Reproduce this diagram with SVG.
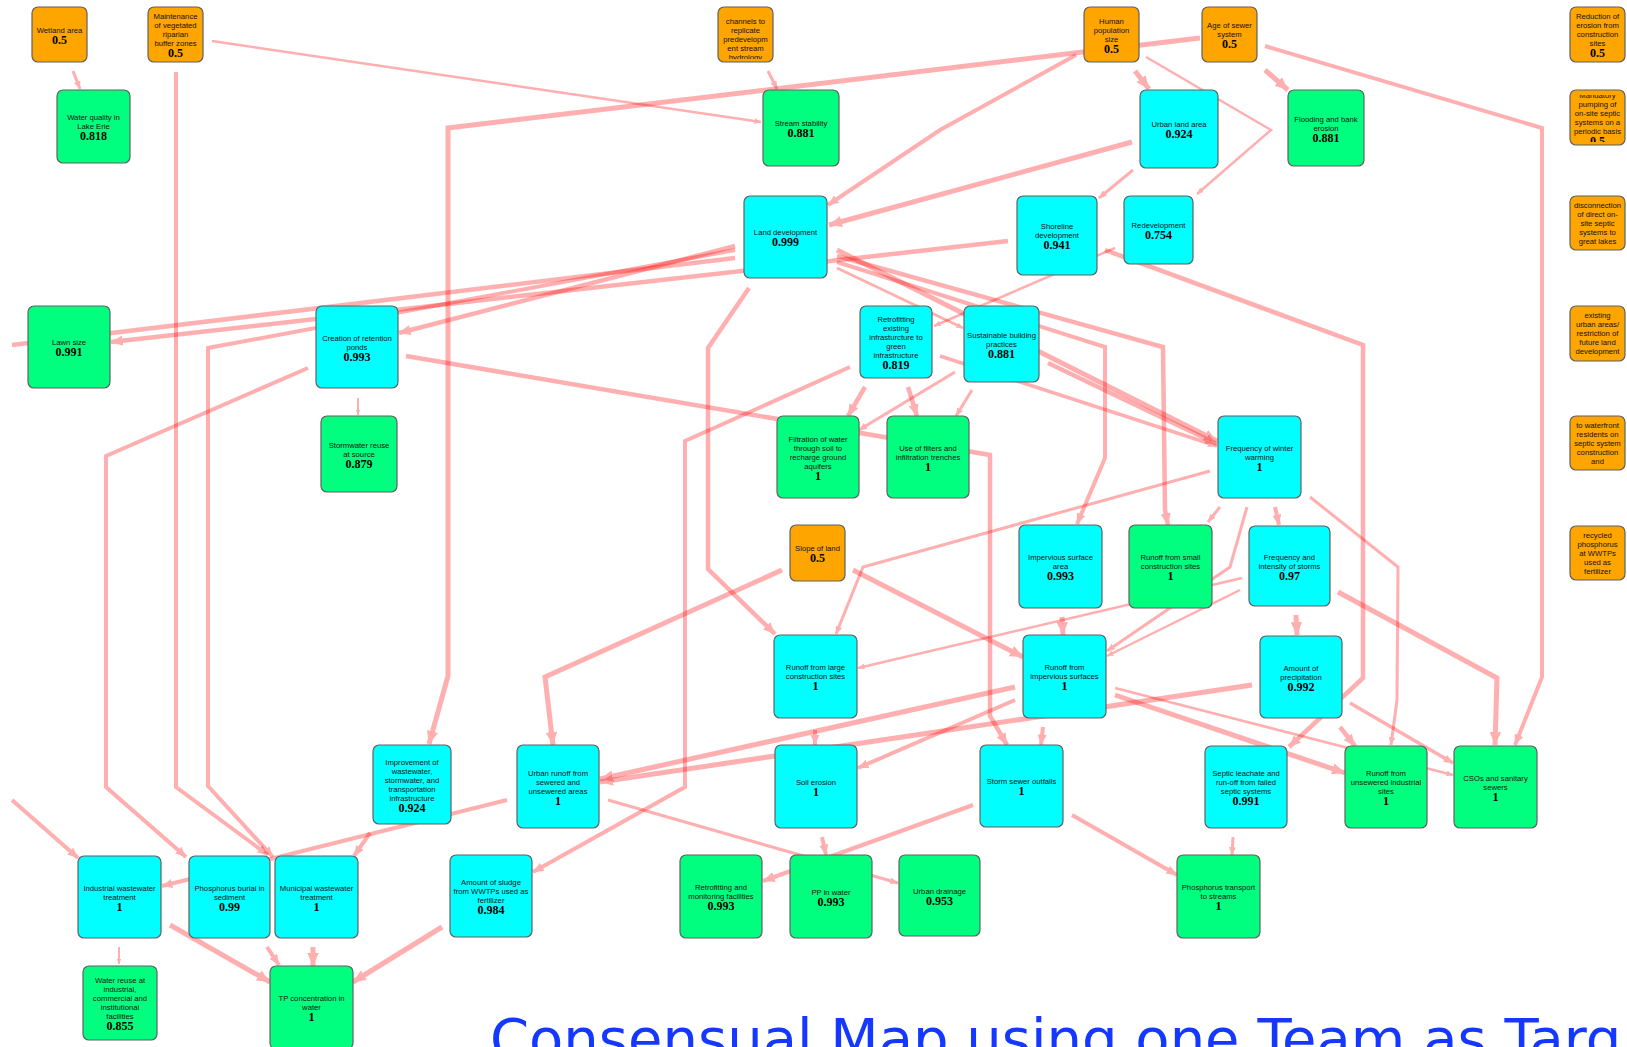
<svg xmlns="http://www.w3.org/2000/svg" width="1627" height="1047" viewBox="0 0 1627 1047">
<style>
  .n rect.b { stroke:#606060; stroke-width:1.2; }
  .o { fill:#ffa500; } .c { fill:#00ffff; } .g { fill:#00ff7f; }
  .t { font-family:"Liberation Sans", Arial, sans-serif; font-size:7.7px; fill:#111; text-anchor:middle; }
  .v { font-family:"Liberation Serif", "Times New Roman", serif; font-weight:bold; font-size:12px; fill:#000; text-anchor:middle; }
  #edges path { fill:none; stroke:#ff0000; opacity:0.31; stroke-linejoin:miter; marker-end:url(#ah); }
  #edges path.open { marker-end:none; }
  .w2 { stroke-width:2; } .w25 { stroke-width:2.5; } .w3 { stroke-width:3; } .w35 { stroke-width:3.5; }
  .w4 { stroke-width:4; } .w45 { stroke-width:4.5; } .w5 { stroke-width:5; }
  .title { font-family:"DejaVu Sans", Verdana, sans-serif; font-size:56px; fill:#1438ff; }
</style>
<defs>
  <marker id="ah" viewBox="0 0 10 10" refX="10" refY="5" markerWidth="2.6" markerHeight="2.3" markerUnits="strokeWidth" orient="auto" preserveAspectRatio="none">
    <path d="M0,0 L10,5 L0,10 z" fill="#ff0000"/>
  </marker>
  <clipPath id="k-channels"><rect x="718" y="10.5" width="55" height="48.5"/></clipPath>
  <clipPath id="k-pumping"><rect x="1570" y="95" width="55" height="47"/></clipPath>
  <clipPath id="k-disc"><rect x="1570" y="199.5" width="55" height="47"/></clipPath>
  <clipPath id="k-exist"><rect x="1570" y="309.5" width="55" height="48"/></clipPath>
  <clipPath id="k-water"><rect x="1570" y="419.5" width="55" height="47"/></clipPath>
  <clipPath id="k-recyc"><rect x="1570" y="529.5" width="55" height="47"/></clipPath>
</defs>
<rect width="1627" height="1047" fill="#fff"/>

<!-- causal links -->
<g id="edges">
  <path class="w3" d="M73,71 L80,89"/>
  <path class="w25" d="M212,41 L761,122"/>
  <path class="w4" d="M176,72 L176,787 L268,855"/>
  <path class="w3" d="M768,71 L777,89"/>
  <path class="w5" d="M1200,38 L448,128 L448,676 L429,744"/>
  <path class="w4" d="M1076,55 L940,130 L828,205"/>
  <path class="w5" d="M1135,71 L1149,89"/>
  <path class="w25" d="M1146,57 L1271,130 L1197,194"/>
  <path class="w5" d="M1132,142 L829,225"/>
  <path class="w3" d="M1133,170 L1099,198"/>
  <path class="w5" d="M1265,70 L1288,90"/>
  <path class="w4" d="M1265,46 L1542,128 L1542,677 L1515,745"/>
  <path class="w45" d="M1008,241 L111,342"/>
  <path class="w45 open" d="M735,258 L12,345"/>
  <path class="w45" d="M735,246 L399,333"/>
  <path class="w4" d="M735,250 L208,348 L208,786 L273,857"/>
  <path class="w4" d="M308,368 L106,456 L106,787 L186,857"/>
  <path class="w45" d="M406,356 L990,455 L990,716 L1007,745"/>
  <path class="w2" d="M358,398 L358,415"/>
  <path class="w45" d="M749,288 L708,348 L708,569 L775,634"/>
  <path class="w5" d="M837,250 L1217,441"/>
  <path class="w45" d="M837,256 L1163,347 L1165,510 L1168,525"/>
  <path class="w4" d="M837,262 L1105,347 L1105,458 L1077,524"/>
  <path class="w25" d="M837,268 L963,328"/>
  <path class="w45" d="M1048,363 L1217,444"/>
  <path class="w35" d="M940,356 L1217,446"/>
  <path class="w45" d="M865,387 L848,416"/>
  <path class="w45" d="M908,387 L917,416"/>
  <path class="w3" d="M955,372 L859,430"/>
  <path class="w3" d="M972,390 L956,416"/>
  <path class="w4" d="M850,367 L685,441 L685,787 L533,872"/>
  <path class="w25" d="M1115,248 L934,326"/>
  <path class="w45" d="M1105,250 L1363,345 L1363,678 L1289,747"/>
  <path class="w3" d="M1210,471 L863,567 L836,634"/>
  <path class="w3" d="M1220,507 L1208,522"/>
  <path class="w4" d="M1275,507 L1279,525"/>
  <path class="w3" d="M1247,507 L1230,567 L1107,651"/>
  <path class="w3" d="M1310,497 L1398,567 L1397,700 L1391,745"/>
  <path class="w5" d="M1338,592 L1497,678 L1495,745"/>
  <path class="w5" d="M1296,615 L1297,635"/>
  <path class="w25" d="M1242,578 L858,668"/>
  <path class="w25" d="M1240,590 L1107,656"/>
  <path class="w5" d="M1252,685 L600,782"/>
  <path class="w35" d="M1350,703 L1453,763"/>
  <path class="w45" d="M1340,727 L1355,746"/>
  <path class="w5" d="M1015,687 L600,779"/>
  <path class="w4" d="M1015,700 L858,768"/>
  <path class="w4" d="M1043,727 L1041,745"/>
  <path class="w5" d="M1115,695 L1345,773"/>
  <path class="w25" d="M1115,688 L1453,775"/>
  <path class="w5" d="M853,570 L1023,657"/>
  <path class="w5" d="M782,570 L545,677 L553,745"/>
  <path class="w5" d="M1062,617 L1063,635"/>
  <path class="w4" d="M815,730 L815,745"/>
  <path class="w4" d="M822,837 L826,855"/>
  <path class="w45" d="M973,805 L763,881"/>
  <path class="w3" d="M608,800 L898,883"/>
  <path class="w4" d="M507,800 L162,886"/>
  <path class="w4" d="M370,833 L354,856"/>
  <path class="w2" d="M119,947 L119,964"/>
  <path class="w5" d="M170,925 L270,982"/>
  <path class="w4" d="M267,947 L279,965"/>
  <path class="w5" d="M313,947 L313,966"/>
  <path class="w5" d="M442,927 L353,982"/>
  <path class="w3" d="M1233,837 L1232,855"/>
  <path class="w4" d="M1072,815 L1177,875"/>
  <path class="w4" d="M12,800 L78,858"/>
</g>

<!-- concepts -->
<g id="wetland" class="n"><rect class="b o" x="32" y="7" width="55" height="55" rx="6"/>
  <text class="t" x="59.5" y="32.5">Wetland area</text><text class="v" x="59.5" y="43.5">0.5</text></g>
<g id="riparian" class="n"><rect class="b o" x="148" y="7" width="55" height="55" rx="6"/>
  <text class="t" x="175.5" y="19">Maintenance</text><text class="t" x="175.5" y="28">of vegetated</text><text class="t" x="175.5" y="37">riparian</text><text class="t" x="175.5" y="46">buffer zones</text><text class="v" x="175.5" y="57">0.5</text></g>
<g id="channels" class="n"><rect class="b o" x="718" y="7" width="55" height="55" rx="6"/>
  <g clip-path="url(#k-channels)"><text class="t" x="745.5" y="23.5">channels to</text><text class="t" x="745.5" y="32.5">replicate</text><text class="t" x="745.5" y="41.5">predevelopm</text><text class="t" x="745.5" y="50.5">ent stream</text><text class="t" x="745.5" y="59.5">hydrology</text></g></g>
<g id="population" class="n"><rect class="b o" x="1084" y="7" width="55" height="55" rx="6"/>
  <text class="t" x="1111.5" y="23.5">Human</text><text class="t" x="1111.5" y="32.5">population</text><text class="t" x="1111.5" y="41.5">size</text><text class="v" x="1111.5" y="52.5">0.5</text></g>
<g id="sewerage" class="n"><rect class="b o" x="1202" y="7" width="55" height="55" rx="6"/>
  <text class="t" x="1229.5" y="28">Age of sewer</text><text class="t" x="1229.5" y="37">system</text><text class="v" x="1229.5" y="48">0.5</text></g>
<g id="reduction" class="n"><rect class="b o" x="1570" y="7" width="55" height="55" rx="6"/>
  <text class="t" x="1597.5" y="19">Reduction of</text><text class="t" x="1597.5" y="28">erosion from</text><text class="t" x="1597.5" y="37">construction</text><text class="t" x="1597.5" y="46">sites</text><text class="v" x="1597.5" y="57">0.5</text></g>
<g id="waterquality" class="n"><rect class="b g" x="57" y="90" width="73" height="73" rx="6"/>
  <text class="t" x="93.5" y="120">Water quality in</text><text class="t" x="93.5" y="129">Lake Erie</text><text class="v" x="93.5" y="140">0.818</text></g>
<g id="stream" class="n"><rect class="b g" x="763" y="90" width="76" height="76" rx="6"/>
  <text class="t" x="801" y="126">Stream stability</text><text class="v" x="801" y="137">0.881</text></g>
<g id="urbanland" class="n"><rect class="b c" x="1140" y="90" width="78" height="78" rx="6"/>
  <text class="t" x="1179" y="127">Urban land area</text><text class="v" x="1179" y="138">0.924</text></g>
<g id="flooding" class="n"><rect class="b g" x="1288" y="90" width="76" height="76" rx="6"/>
  <text class="t" x="1326" y="121.5">Flooding and bank</text><text class="t" x="1326" y="130.5">erosion</text><text class="v" x="1326" y="141.5">0.881</text></g>
<g id="pumping" class="n"><rect class="b o" x="1570" y="90" width="55" height="55" rx="6"/>
  <g clip-path="url(#k-pumping)"><text class="t" x="1597.5" y="97.5">Mandatory</text><text class="t" x="1597.5" y="106.5">pumping of</text><text class="t" x="1597.5" y="115.5">on-site septic</text><text class="t" x="1597.5" y="124.5">systems on a</text><text class="t" x="1597.5" y="133.5">periodic basis</text><text class="v" x="1597.5" y="144.5">0.5</text></g></g>
<g id="landdev" class="n"><rect class="b c" x="744" y="196" width="83" height="82" rx="6"/>
  <text class="t" x="785.5" y="235">Land development</text><text class="v" x="785.5" y="246">0.999</text></g>
<g id="shoreline" class="n"><rect class="b c" x="1017" y="196" width="80" height="79" rx="6"/>
  <text class="t" x="1057" y="229">Shoreline</text><text class="t" x="1057" y="238">development</text><text class="v" x="1057" y="249">0.941</text></g>
<g id="redevelopment" class="n"><rect class="b c" x="1124" y="196" width="69" height="68" rx="6"/>
  <text class="t" x="1158.5" y="228">Redevelopment</text><text class="v" x="1158.5" y="239">0.754</text></g>
<g id="disconnection" class="n"><rect class="b o" x="1570" y="196" width="55" height="54" rx="6"/>
  <g clip-path="url(#k-disc)"><text class="t" x="1597.5" y="207.5">disconnection</text><text class="t" x="1597.5" y="216.5">of direct on-</text><text class="t" x="1597.5" y="225.5">site septic</text><text class="t" x="1597.5" y="234.5">systems to</text><text class="t" x="1597.5" y="243.5">great lakes</text></g></g>
<g id="lawn" class="n"><rect class="b g" x="28" y="306" width="82" height="82" rx="6"/>
  <text class="t" x="69" y="345">Lawn size</text><text class="v" x="69" y="356">0.991</text></g>
<g id="ponds" class="n"><rect class="b c" x="316" y="306" width="82" height="82" rx="6"/>
  <text class="t" x="357" y="340.5">Creation of retention</text><text class="t" x="357" y="349.5">ponds</text><text class="v" x="357" y="360.5">0.993</text></g>
<g id="retrofitting" class="n"><rect class="b c" x="860" y="306" width="72" height="72" rx="6"/>
  <text class="t" x="896" y="322">Retrofitting</text><text class="t" x="896" y="331">existing</text><text class="t" x="896" y="340">infrasturcture to</text><text class="t" x="896" y="349">green</text><text class="t" x="896" y="358">infrastructure</text><text class="v" x="896" y="369">0.819</text></g>
<g id="sustainable" class="n"><rect class="b c" x="964" y="306" width="75" height="76" rx="6"/>
  <text class="t" x="1001.5" y="337.5">Sustainable building</text><text class="t" x="1001.5" y="346.5">practices</text><text class="v" x="1001.5" y="357.5">0.881</text></g>
<g id="existing" class="n"><rect class="b o" x="1570" y="306" width="55" height="55" rx="6"/>
  <g clip-path="url(#k-exist)"><text class="t" x="1597.5" y="318">existing</text><text class="t" x="1597.5" y="327">urban areas/</text><text class="t" x="1597.5" y="336">restriction of</text><text class="t" x="1597.5" y="345">future land</text><text class="t" x="1597.5" y="354">development</text></g></g>
<g id="stormreuse" class="n"><rect class="b g" x="321" y="416" width="76" height="76" rx="6"/>
  <text class="t" x="359" y="447.5">Stormwater reuse</text><text class="t" x="359" y="456.5">at source</text><text class="v" x="359" y="467.5">0.879</text></g>
<g id="filtration" class="n"><rect class="b g" x="777" y="416" width="82" height="82" rx="6"/>
  <text class="t" x="818" y="441.5">Filtration of water</text><text class="t" x="818" y="450.5">through soil to</text><text class="t" x="818" y="459.5">recharge ground</text><text class="t" x="818" y="468.5">aquifers</text><text class="v" x="818" y="479.5">1</text></g>
<g id="filters" class="n"><rect class="b g" x="887" y="416" width="82" height="82" rx="6"/>
  <text class="t" x="928" y="450.5">Use of filters and</text><text class="t" x="928" y="459.5">infiltration trenches</text><text class="v" x="928" y="470.5">1</text></g>
<g id="winter" class="n"><rect class="b c" x="1218" y="416" width="83" height="82" rx="6"/>
  <text class="t" x="1259.5" y="450.5">Frequency of winter</text><text class="t" x="1259.5" y="459.5">warming</text><text class="v" x="1259.5" y="470.5">1</text></g>
<g id="waterfront" class="n"><rect class="b o" x="1570" y="416" width="55" height="54" rx="6"/>
  <g clip-path="url(#k-water)"><text class="t" x="1597.5" y="427.5">to waterfront</text><text class="t" x="1597.5" y="436.5">residents on</text><text class="t" x="1597.5" y="445.5">septic system</text><text class="t" x="1597.5" y="454.5">construction</text><text class="t" x="1597.5" y="463.5">and</text></g></g>
<g id="slope" class="n"><rect class="b o" x="790" y="525" width="55" height="56" rx="6"/>
  <text class="t" x="817.5" y="551">Slope of land</text><text class="v" x="817.5" y="562">0.5</text></g>
<g id="impervarea" class="n"><rect class="b c" x="1019" y="525" width="83" height="83" rx="6"/>
  <text class="t" x="1060.5" y="560">Impervious surface</text><text class="t" x="1060.5" y="569">area</text><text class="v" x="1060.5" y="580">0.993</text></g>
<g id="runoffsmall" class="n"><rect class="b g" x="1129" y="525" width="83" height="83" rx="6"/>
  <text class="t" x="1170.5" y="560">Runoff from small</text><text class="t" x="1170.5" y="569">construction sites</text><text class="v" x="1170.5" y="580">1</text></g>
<g id="storms" class="n"><rect class="b c" x="1249" y="526" width="81" height="80" rx="6"/>
  <text class="t" x="1289.5" y="559.5">Frequency and</text><text class="t" x="1289.5" y="568.5">intensity of storms</text><text class="v" x="1289.5" y="579.5">0.97</text></g>
<g id="recycled" class="n"><rect class="b o" x="1570" y="526" width="55" height="54" rx="6"/>
  <g clip-path="url(#k-recyc)"><text class="t" x="1597.5" y="537.5">recycled</text><text class="t" x="1597.5" y="546.5">phosphorus</text><text class="t" x="1597.5" y="555.5">at WWTPs</text><text class="t" x="1597.5" y="564.5">used as</text><text class="t" x="1597.5" y="573.5">fertilizer</text></g></g>
<g id="runofflarge" class="n"><rect class="b c" x="774" y="635" width="83" height="83" rx="6"/>
  <text class="t" x="815.5" y="670">Runoff from large</text><text class="t" x="815.5" y="679">construction sites</text><text class="v" x="815.5" y="690">1</text></g>
<g id="runoffimperv" class="n"><rect class="b c" x="1023" y="635" width="83" height="83" rx="6"/>
  <text class="t" x="1064.5" y="670">Runoff from</text><text class="t" x="1064.5" y="679">impervious surfaces</text><text class="v" x="1064.5" y="690">1</text></g>
<g id="precipitation" class="n"><rect class="b c" x="1260" y="636" width="82" height="82" rx="6"/>
  <text class="t" x="1301" y="670.5">Amount of</text><text class="t" x="1301" y="679.5">precipitation</text><text class="v" x="1301" y="690.5">0.992</text></g>
<g id="improvement" class="n"><rect class="b c" x="373" y="745" width="78" height="79" rx="6"/>
  <text class="t" x="412" y="764.5">Improvement of</text><text class="t" x="412" y="773.5">wastewater,</text><text class="t" x="412" y="782.5">stormwater, and</text><text class="t" x="412" y="791.5">transportation</text><text class="t" x="412" y="800.5">infrastructure</text><text class="v" x="412" y="811.5">0.924</text></g>
<g id="urbanrunoff" class="n"><rect class="b c" x="517" y="745" width="82" height="83" rx="6"/>
  <text class="t" x="558" y="775.5">Urban runoff from</text><text class="t" x="558" y="784.5">sewered and</text><text class="t" x="558" y="793.5">unsewered areas</text><text class="v" x="558" y="804.5">1</text></g>
<g id="soilerosion" class="n"><rect class="b c" x="775" y="745" width="82" height="83" rx="6"/>
  <text class="t" x="816" y="784.5">Soil erosion</text><text class="v" x="816" y="795.5">1</text></g>
<g id="stormsewer" class="n"><rect class="b c" x="980" y="745" width="83" height="82" rx="6"/>
  <text class="t" x="1021.5" y="784">Storm sewer outfalls</text><text class="v" x="1021.5" y="795">1</text></g>
<g id="septic" class="n"><rect class="b c" x="1205" y="746" width="82" height="82" rx="6"/>
  <text class="t" x="1246" y="776">Septic leachate and</text><text class="t" x="1246" y="785">run-off from failed</text><text class="t" x="1246" y="794">septic systems</text><text class="v" x="1246" y="805">0.991</text></g>
<g id="unsewered" class="n"><rect class="b g" x="1345" y="746" width="82" height="82" rx="6"/>
  <text class="t" x="1386" y="776">Runoff from</text><text class="t" x="1386" y="785">unsewered industrial</text><text class="t" x="1386" y="794">sites</text><text class="v" x="1386" y="805">1</text></g>
<g id="csos" class="n"><rect class="b g" x="1454" y="746" width="83" height="82" rx="6"/>
  <text class="t" x="1495.5" y="780.5">CSOs and sanitary</text><text class="t" x="1495.5" y="789.5">sewers</text><text class="v" x="1495.5" y="800.5">1</text></g>
<g id="industrial" class="n"><rect class="b c" x="78" y="856" width="83" height="82" rx="6"/>
  <text class="t" x="119.5" y="890.5">Industrial wastewater</text><text class="t" x="119.5" y="899.5">treatment</text><text class="v" x="119.5" y="910.5">1</text></g>
<g id="burial" class="n"><rect class="b c" x="189" y="856" width="81" height="82" rx="6"/>
  <text class="t" x="229.5" y="890.5">Phosphorus burial in</text><text class="t" x="229.5" y="899.5">sediment</text><text class="v" x="229.5" y="910.5">0.99</text></g>
<g id="municipal" class="n"><rect class="b c" x="275" y="856" width="83" height="82" rx="6"/>
  <text class="t" x="316.5" y="890.5">Municipal wastewater</text><text class="t" x="316.5" y="899.5">treatment</text><text class="v" x="316.5" y="910.5">1</text></g>
<g id="sludge" class="n"><rect class="b c" x="450" y="855" width="82" height="82" rx="6"/>
  <text class="t" x="491" y="885">Amount of sludge</text><text class="t" x="491" y="894">from WWTPs used as</text><text class="t" x="491" y="903">fertilizer</text><text class="v" x="491" y="914">0.984</text></g>
<g id="retromonitor" class="n"><rect class="b g" x="680" y="855" width="82" height="83" rx="6"/>
  <text class="t" x="721" y="890">Retrofitting and</text><text class="t" x="721" y="899">monitoring facilities</text><text class="v" x="721" y="910">0.993</text></g>
<g id="ppwater" class="n"><rect class="b g" x="790" y="855" width="82" height="83" rx="6"/>
  <text class="t" x="831" y="894.5">PP in water</text><text class="v" x="831" y="905.5">0.993</text></g>
<g id="drainage" class="n"><rect class="b g" x="899" y="855" width="81" height="81" rx="6"/>
  <text class="t" x="939.5" y="893.5">Urban drainage</text><text class="v" x="939.5" y="904.5">0.953</text></g>
<g id="phostransport" class="n"><rect class="b g" x="1177" y="855" width="83" height="83" rx="6"/>
  <text class="t" x="1218.5" y="890">Phosphorus transport</text><text class="t" x="1218.5" y="899">to streams</text><text class="v" x="1218.5" y="910">1</text></g>
<g id="waterreuse" class="n"><rect class="b g" x="83" y="966" width="74" height="74" rx="6"/>
  <text class="t" x="120" y="983">Water reuse at</text><text class="t" x="120" y="992">industrial,</text><text class="t" x="120" y="1001">commercial and</text><text class="t" x="120" y="1010">institutional</text><text class="t" x="120" y="1019">facilities</text><text class="v" x="120" y="1030">0.855</text></g>
<g id="tp" class="n"><rect class="b g" x="270" y="966" width="83" height="83" rx="6"/>
  <text class="t" x="311.5" y="1001">TP concentration in</text><text class="t" x="311.5" y="1010">water</text><text class="v" x="311.5" y="1021">1</text></g>

<text class="title" x="490" y="1058">Consensual Map using one Team as Targ</text>
</svg>
